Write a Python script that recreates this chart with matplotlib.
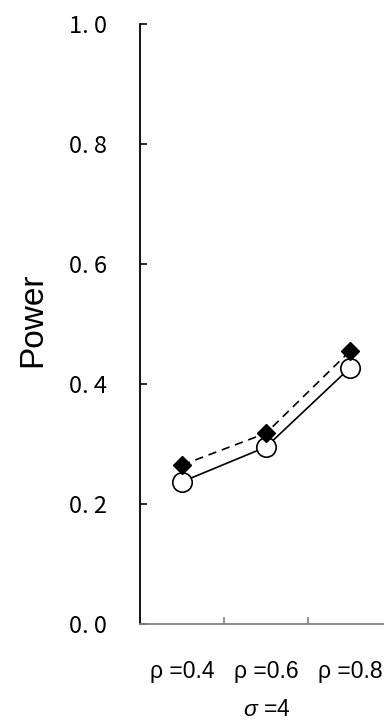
import matplotlib
matplotlib.use("Agg")
import matplotlib.pyplot as plt
from matplotlib.ticker import FixedLocator

plt.rcParams.update({
    "mathtext.fontset": "custom",
    "mathtext.rm": "Liberation Sans",
    "mathtext.it": "Liberation Sans:italic",
})

# data
categories = ["ρ =0.4", "ρ =0.6", "ρ =0.8"]
power_circle = [0.237, 0.295, 0.427]
power_diamond = [0.265, 0.318, 0.455]
y_ticks = [0.0, 0.2, 0.4, 0.6, 0.8, 1.0]
y_tick_labels = ["0. 0", "0. 2", "0. 4", "0. 6", "0. 8", "1. 0"]
group_label = r"$\it{σ}$ =4"

fig = plt.figure(figsize=(3.84, 7.28), dpi=100)
ax = fig.add_axes([140 / 384, 1 - 624 / 728, 252 / 384, 600 / 728])

x = [i + 0.5 for i in range(len(categories))]
ax.plot(x, power_circle, "-", color="black", lw=1.2, marker="o", ms=14,
        mfc="white", mec="black", mew=1.2, zorder=3)
ax.plot(x, power_diamond, color="black", lw=1.2, ls=(0, (5, 3.5)), marker="D",
        ms=9.5, mfc="black", mec="black", zorder=4)

ax.set_xlim(0, 3)
ax.set_ylim(0, 1.0)

for s in ("top", "right"):
    ax.spines[s].set_visible(False)
ax.spines["left"].set_color("black")
ax.spines["left"].set_linewidth(1.3)
ax.spines["bottom"].set_color("#808080")
ax.spines["bottom"].set_linewidth(1.3)

ax.set_yticks(y_ticks)
ax.set_yticklabels(y_tick_labels, fontsize=17, family=["Noto Sans CJK JP", "DejaVu Sans"])
ax.tick_params(axis="y", direction="in", length=5, width=1.2, pad=24, colors="black")

ax.set_xticks(x)
ax.set_xticklabels(categories, fontsize=16.5, family="Liberation Sans")
ax.tick_params(axis="x", which="major", length=0, pad=26)
ax.xaxis.set_minor_locator(FixedLocator([1, 2]))
ax.tick_params(axis="x", which="minor", direction="in", length=5, width=1.2, color="#808080")

ax.set_ylabel("Power", fontsize=24, family="Liberation Sans")
ax.yaxis.set_label_coords(-92 / 252, (624 - 320) / 600)

fig.text(267 / 384, 1 - 710 / 728, group_label, fontsize=16.5,
         family="Liberation Sans", ha="center", va="center")

fig.savefig("out.png", dpi=100)
